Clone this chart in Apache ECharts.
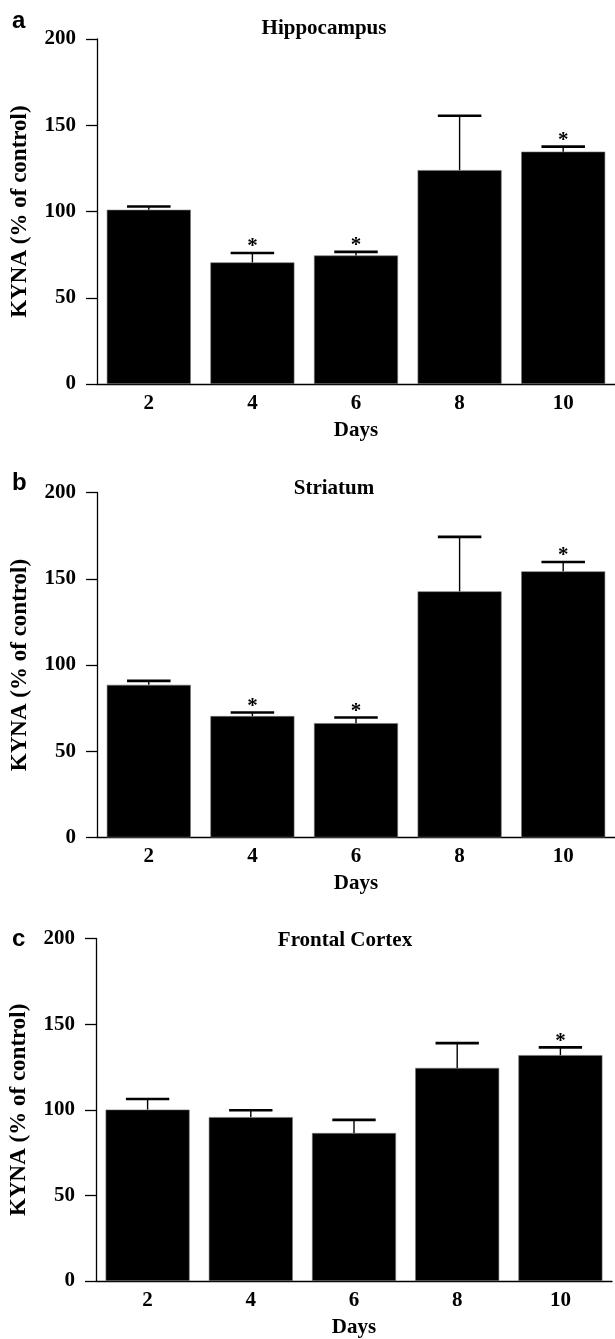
<!DOCTYPE html>
<html>
<head>
<meta charset="utf-8">
<script src="https://cdn.jsdelivr.net/npm/echarts@6/dist/echarts.min.js"></script>
<style>
html,body{margin:0;padding:0;background:#fff;}
#chart{width:615px;height:1339px;}
</style>
</head>
<body>
<div id="chart"></div>
<script>
var days = ['2', '4', '6', '8', '10'];
var yTicks = [0, 50, 100, 150, 200];

var hippoMean = [101, 70.5, 74.5, 124, 134.7];
var hippoSem = [1.9, 5.4, 2.1, 31.5, 2.9];
var hippoSig = [0, 1, 1, 0, 1];

var striatumMean = [88.5, 70.4, 66.3, 142.7, 154.3];
var striatumSem = [2.3, 2.1, 3.3, 31.6, 5.4];
var striatumSig = [0, 1, 1, 0, 1];

var cortexMean = [100.1, 95.7, 86.4, 124.4, 131.9];
var cortexSem = [6.2, 4.0, 7.7, 14.5, 4.5];
var cortexSig = [0, 0, 0, 0, 1];

var panelTitles = ['Hippocampus', 'Striatum', 'Frontal Cortex'];
var panelLetters = ['a', 'b', 'c'];
var yName = 'KYNA (% of control)';
var xName = 'Days';

var panels = [
  {mean: hippoMean, sem: hippoSem, sig: hippoSig},
  {mean: striatumMean, sem: striatumSem, sig: striatumSig},
  {mean: cortexMean, sem: cortexSem, sig: cortexSig}
];

var SERIF = '"Liberation Serif", "Times New Roman", serif';
var SANS = '"Liberation Sans", Arial, sans-serif';

var grids = [
  {left: 97, top: 39, width: 519, height: 345},
  {left: 97, top: 492.5, width: 519, height: 345},
  {left: 93, top: 938.5, width: 519, height: 345}
];
var titlePos = [[324, 28.5], [334, 488.5], [345, 940.5]];
var letterPos = [[12, 21], [12, 483], [12, 939]];

var xAxes = [], yAxes = [], series = [], graphics = [];

panels.forEach(function (p, i) {
  xAxes.push({
    type: 'category', gridIndex: i, data: days,
    axisLine: {lineStyle: {color: '#000', width: 1.3}},
    axisTick: {show: false},
    axisLabel: {color: '#000', fontFamily: SERIF, fontWeight: 'bold', fontSize: 21, margin: 9},
    name: xName, nameLocation: 'middle', nameGap: 36,
    nameTextStyle: {color: '#000', fontFamily: SERIF, fontWeight: 'bold', fontSize: 21}
  });
  yAxes.push({
    type: 'value', gridIndex: i, min: yTicks[0], max: yTicks[yTicks.length - 1], interval: 50,
    axisLine: {show: true, lineStyle: {color: '#000', width: 1.3}},
    axisTick: {show: true, length: 11, lineStyle: {color: '#000', width: 1.3}},
    splitLine: {show: false},
    axisLabel: {color: '#000', fontFamily: SERIF, fontWeight: 'bold', fontSize: 21, margin: 21},
    name: yName, nameLocation: 'middle', nameGap: 65, nameRotate: 90,
    nameTextStyle: {color: '#000', fontFamily: SERIF, fontWeight: 'bold', fontSize: 23}
  });
  series.push({
    type: 'bar', xAxisIndex: i, yAxisIndex: i, data: p.mean,
    barWidth: 84,
    itemStyle: {color: '#000', borderColor: '#777', borderWidth: 0.6},
    silent: true, animation: false
  });
  var errData = p.mean.map(function (m, k) { return [k, m, m + p.sem[k], p.sig[k]]; });
  series.push({
    type: 'custom', xAxisIndex: i, yAxisIndex: i, data: errData, animation: false, silent: true, z: 5,
    renderItem: function (params, api) {
      var base = api.coord([api.value(0), api.value(1)]);
      var top = api.coord([api.value(0), api.value(2)]);
      var half = api.size([1, 0])[0] * 0.21;
      var children = [
        {type: 'line', shape: {x1: base[0], y1: base[1], x2: top[0], y2: top[1]}, style: {stroke: '#000', lineWidth: 1.4}},
        {type: 'line', shape: {x1: top[0] - half, y1: top[1], x2: top[0] + half, y2: top[1]}, style: {stroke: '#000', lineWidth: 2.6}}
      ];
      if (api.value(3)) {
        children.push({type: 'text', style: {text: '*', x: top[0], y: top[1] - 6, align: 'center', verticalAlign: 'middle',
          font: 'bold 21px ' + SERIF, fill: '#000'}});
      }
      return {type: 'group', children: children};
    }
  });
  graphics.push({type: 'text', x: titlePos[i][0], y: titlePos[i][1],
    style: {text: panelTitles[i], font: 'bold 21px ' + SERIF, fill: '#000', align: 'center', verticalAlign: 'middle'}});
  graphics.push({type: 'text', x: letterPos[i][0], y: letterPos[i][1],
    style: {text: panelLetters[i], font: 'bold 24px ' + SANS, fill: '#000', align: 'left', verticalAlign: 'middle'}});
});

var chart = echarts.init(document.getElementById('chart'), null, {renderer: 'canvas'});
chart.setOption({
  backgroundColor: '#fff',
  animation: false,
  grid: grids,
  xAxis: xAxes,
  yAxis: yAxes,
  series: series,
  graphic: graphics
});
</script>
</body>
</html>
